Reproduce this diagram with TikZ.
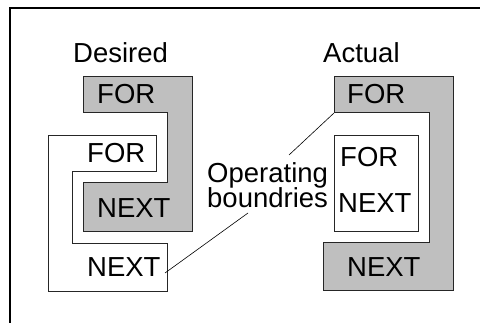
\documentclass[tikz,border=0pt]{standalone}
\usepackage{fontspec}
\setmainfont{Liberation Sans}
\begin{document}
\begin{tikzpicture}[x=1pt,y=-1pt,
  lbl/.style={anchor=base west,inner sep=0pt,font=\fontsize{27.5}{25}\selectfont},
  outline/.style={draw=black!85,line width=1pt},
  grayshape/.style={outline,fill=black!25},
  leader/.style={draw=black,line width=0.6pt}]
\useasboundingbox (0,0) rectangle (480,323);
% frame (cropped)
\draw[line width=2.4pt] (480,8) -- (10,8) -- (10,323);
% Desired
\path[grayshape] (83,77) -- (192,77) -- (192,232) -- (83,232) -- (83,183) -- (167,183) -- (167,113) -- (83,113) -- cycle;
\path[outline,fill=white] (48,136) -- (156,136) -- (156,172) -- (72,172) -- (72,244) -- (167,244) -- (167,292) -- (48,292) -- cycle;
\node[lbl] (desired) at (73,63) {Desired};
\node[lbl] (dfor1) at (97,104) {FOR};
\node[lbl] (dfor2) at (87,163) {FOR};
\node[lbl] (dnext1) at (97,218) {NEXT};
\node[lbl] (dnext2) at (87,277) {NEXT};
% Actual
\path[grayshape] (334,77) -- (453,77) -- (453,291) -- (323,291) -- (323,243) -- (429,243) -- (429,113) -- (334,113) -- cycle;
\path[outline,fill=white] (334,136) rectangle (418,232);
\node[lbl] (actual) at (323,63) {Actual};
\node[lbl] (afor1) at (347,104) {FOR};
\node[lbl] (afor2) at (340,167) {FOR};
\node[lbl] (anext1) at (338,213) {NEXT};
\node[lbl] (anext2) at (347,277) {NEXT};
% label
\node[lbl] (op) at (207,183) {Operating};
\node[lbl] (bd) at (207,208) {boundries};
\coordinate (l1s) at (289,155);
\coordinate (l1e) at (334,113);
\coordinate (l2s) at (248,213);
\coordinate (l2e) at (165,273);
\draw[leader] (l1s) -- (l1e);
\draw[leader] (l2s) -- (l2e);
\end{tikzpicture}
\end{document}
